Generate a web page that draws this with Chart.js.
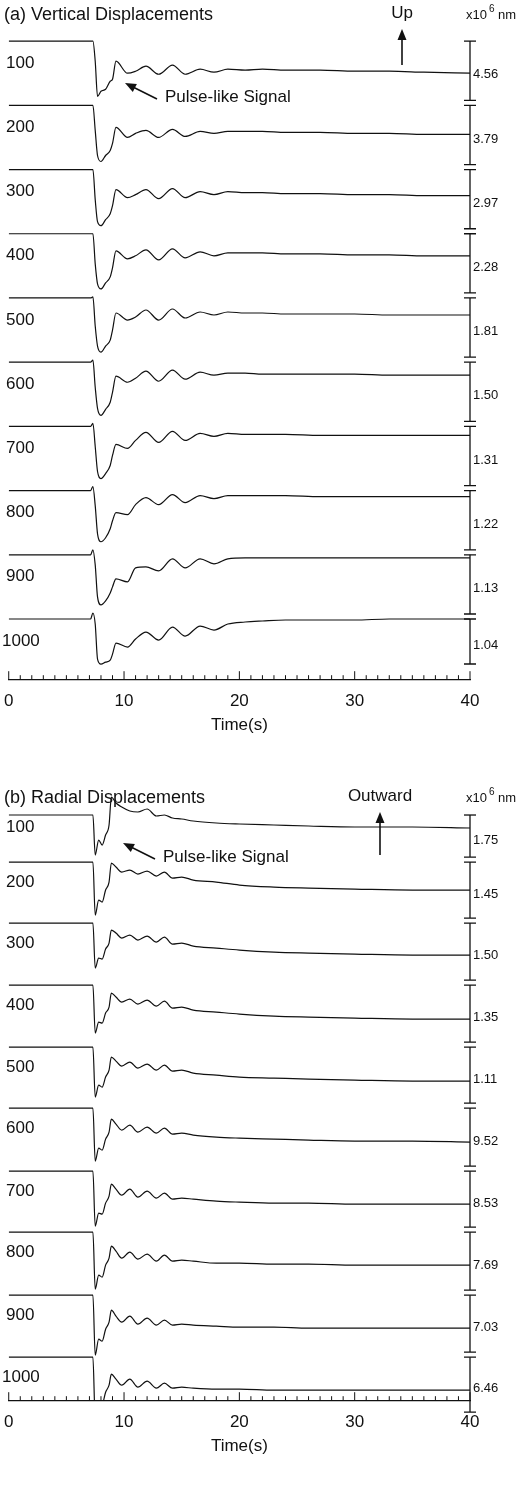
<!DOCTYPE html>
<html>
<head>
<meta charset="utf-8">
<script src="https://cdn.jsdelivr.net/npm/chart.js@4"></script>
<style>
  body { margin: 0; background: #fff; }
  canvas { display: block; }
</style>
</head>
<body>
<canvas id="vert" width="520" height="750"></canvas>
<canvas id="rad" width="520" height="738"></canvas>
<script>
// distances (km) for each trace
const distances = ['100', '200', '300', '400', '500', '600', '700', '800', '900', '1000'];

// trace amplitudes (x10^6 nm)
const vertAmps = ['4.56', '3.79', '2.97', '2.28', '1.81', '1.50', '1.31', '1.22', '1.13', '1.04'];
const radAmps = ['1.75', '1.45', '1.50', '1.35', '1.11', '9.52', '8.53', '7.69', '7.03', '6.46'];

// sample times (s)
const vertTime = [0, 7.1, 7.3, 7.5, 7.7, 8.0, 8.4, 8.8, 9.0, 9.3, 10.3, 11.0, 11.9, 13.0, 14.2, 15.3, 16.6, 17.8, 19, 20.5, 22, 24, 27, 30, 33, 36, 40];
const radTime = [0, 7.1, 7.3, 7.5, 7.8, 8.1, 8.4, 8.7, 8.9, 9.3, 9.8, 10.5, 11.2, 12.0, 12.8, 13.5, 14.2, 15.0, 16, 18, 20, 23, 26, 30, 35, 40];

// normalised vertical traces (up positive)
const vert100 = [0, 0, 0, -20, -55, -50, -48, -40, -38, -20, -32, -30, -25, -33, -24, -33, -28, -31, -28, -29, -28, -29, -29, -30, -30, -31, -32];
const vert200 = [0, 0, 0, -25, -50, -56, -50, -45, -38, -22, -32, -28, -25, -32, -24, -31, -26, -28, -26, -26, -26, -27, -27, -28, -28, -29, -29];
const vert300 = [0, 0, 0, -30, -52, -56, -50, -44, -36, -20, -28, -25, -20, -29, -19, -28, -22, -25, -22, -23, -23, -24, -24, -25, -25, -26, -26];
const vert400 = [0, 0, 0, -30, -50, -55, -49, -43, -34, -17, -25, -22, -16, -26, -15, -24, -18, -22, -19, -19, -19, -20, -20, -21, -21, -22, -22];
const vert500 = [0, 0, 1, -28, -48, -54, -48, -42, -32, -15, -22, -19, -12, -22, -11, -20, -14, -17, -14, -15, -15, -16, -16, -16, -17, -17, -17];
const vert600 = [0, 0, 2, -25, -46, -53, -47, -40, -30, -14, -20, -16, -9, -19, -8, -17, -10, -13, -11, -11, -12, -12, -12, -12, -13, -13, -13];
const vert700 = [0, 0, 3, -20, -45, -52, -47, -39, -29, -18, -22, -14, -6, -16, -5, -14, -7, -10, -7, -8, -8, -8, -9, -9, -9, -9, -9];
const vert800 = [0, 0, 4, -15, -43, -51, -47, -38, -30, -22, -24, -14, -7, -14, -4, -12, -5, -8, -5, -5, -5, -5, -6, -6, -6, -6, -6];
const vert900 = [0, 0, 5, -10, -42, -50, -46, -38, -32, -24, -27, -13, -12, -16, -4, -13, -4, -9, -4, -3, -3, -3, -3, -3, -3, -3, -3];
const vert1000 = [0, 0, 6, -5, -40, -45, -43, -41, -35, -24, -28, -20, -13, -21, -8, -17, -7, -11, -5, -3, -2, -1, -1, -1, 0, 0, 0];

// normalised radial traces (outward positive)
const rad100 = [0, 0, 0, -40, -25, -30, -20, -10, 18, 12, 8, 4, 3, 6, -1, 0, -3, -4, -6, -8, -9, -10, -11, -12, -12, -13];
const rad200 = [0, 0, 0, -53, -38, -40, -28, -20, -1, -5, -10, -8, -12, -9, -14, -10, -16, -15, -18, -20, -23, -25, -26, -27, -28, -28];
const rad300 = [0, 0, 0, -45, -35, -36, -26, -20, -7, -10, -15, -12, -17, -13, -19, -14, -21, -20, -23, -25, -27, -29, -30, -31, -32, -32];
const rad400 = [0, 0, 0, -48, -37, -38, -28, -22, -8, -12, -17, -14, -19, -15, -21, -16, -23, -22, -25, -27, -29, -31, -32, -33, -34, -34];
const rad500 = [0, 0, 0, -50, -38, -40, -30, -23, -10, -14, -19, -15, -21, -17, -23, -18, -24, -23, -26, -28, -30, -31, -32, -33, -34, -34];
const rad600 = [0, 0, 0, -53, -40, -42, -31, -24, -11, -16, -22, -17, -24, -19, -25, -20, -26, -25, -27, -29, -30, -31, -32, -33, -33, -34];
const rad700 = [0, 0, 0, -55, -42, -43, -32, -25, -13, -18, -24, -18, -26, -20, -27, -22, -28, -27, -28, -30, -31, -32, -32, -33, -33, -33];
const rad800 = [0, 0, 0, -57, -43, -45, -33, -26, -14, -19, -26, -20, -27, -22, -29, -23, -29, -28, -29, -31, -31, -32, -32, -33, -33, -33];
const rad900 = [0, 0, 0, -60, -44, -46, -34, -27, -15, -21, -27, -21, -29, -23, -30, -25, -30, -29, -30, -31, -32, -32, -33, -33, -33, -33];
const rad1000 = [0, 0, 0, -62, -45, -47, -35, -28, -17, -22, -28, -22, -30, -24, -31, -26, -31, -30, -31, -32, -32, -33, -33, -33, -33, -33];

const vertTraces = [vert100, vert200, vert300, vert400, vert500, vert600, vert700, vert800, vert900, vert1000];
const radTraces = [rad100, rad200, rad300, rad400, rad500, rad600, rad700, rad800, rad900, rad1000];

const FONT = '"Liberation Sans", Arial, sans-serif';

// draws the panel texts, scale bars, arrows and axis ticks
const decorPlugin = {
  id: 'decor',
  afterDraw(chart) {
    const o = chart.options.plugins.decor;
    const ctx = chart.ctx;
    const xs = chart.scales.x, ys = chart.scales.y;
    const px = t => xs.getPixelForValue(t);
    const py = v => ys.getPixelForValue(v);
    ctx.save();
    ctx.fillStyle = '#111';
    ctx.strokeStyle = '#111';
    ctx.textBaseline = 'middle';

    ctx.font = '18px ' + FONT;
    ctx.textAlign = 'left';
    ctx.fillText(o.title, 4, o.titleY);

    // distance labels
    ctx.font = '17px ' + FONT;
    o.offsets.forEach((off, i) => {
      ctx.fillText(distances[i], i === 9 ? 2 : 6, py(off) + (i === 0 ? o.firstDy : o.labelDy));
    });

    // scale bar
    const xb = px(40);
    ctx.lineWidth = 1.3;
    const top = py(o.offsets[0]);
    ctx.beginPath();
    ctx.moveTo(xb - 6, top); ctx.lineTo(xb + 6, top);
    ctx.stroke();
    ctx.font = '13px ' + FONT;
    o.offsets.forEach((off, i) => {
      const y0 = py(off);
      const y1 = i < 9 ? py(o.offsets[i + 1]) - 5 : py(off) + o.lastLen;
      ctx.beginPath();
      ctx.moveTo(xb, y0); ctx.lineTo(xb, y1);
      ctx.moveTo(xb - 6, y1); ctx.lineTo(xb + 6, y1);
      if (i < 9) { ctx.moveTo(xb - 6, y1 + 5); ctx.lineTo(xb + 6, y1 + 5); }
      ctx.stroke();
      ctx.fillText(o.amps[i], xb + 3, (y0 + y1) / 2 + 4);
    });
    ctx.fillText('x10', xb - 4, o.titleY);
    ctx.font = '10px ' + FONT;
    ctx.fillText('6', xb + 19, o.titleY - 6);
    ctx.font = '13px ' + FONT;
    ctx.fillText('nm', xb + 28, o.titleY);

    // direction arrow
    ctx.font = '17px ' + FONT;
    ctx.textAlign = 'center';
    ctx.fillText(o.dirText, o.dirX, o.titleY - 2);
    arrow(ctx, o.dirX, o.dirY1, o.dirX, o.titleY + 14);

    // pulse-like signal label
    ctx.textAlign = 'left';
    ctx.fillText('Pulse-like Signal', o.pulseX, o.pulseY);
    arrow(ctx, o.pulseX - 8, o.pulseY + 2, o.pulseX - 40, o.pulseY - 14);

    // x axis ticks pointing up
    ctx.lineWidth = 1;
    const yb = chart.chartArea.bottom;
    for (let t = 0; t <= 40; t++) {
      const len = t % 10 === 0 ? 8 : 4;
      ctx.beginPath();
      ctx.moveTo(px(t), yb); ctx.lineTo(px(t), yb - len);
      ctx.stroke();
    }
    ctx.restore();
  }
};

function arrow(ctx, x0, y0, x1, y1) {
  const a = Math.atan2(y1 - y0, x1 - x0);
  ctx.lineWidth = 1.6;
  ctx.beginPath();
  ctx.moveTo(x0, y0); ctx.lineTo(x1 - 5 * Math.cos(a), y1 - 5 * Math.sin(a));
  ctx.stroke();
  ctx.beginPath();
  ctx.moveTo(x1, y1);
  ctx.lineTo(x1 - 11 * Math.cos(a) + 4.5 * Math.sin(a), y1 - 11 * Math.sin(a) - 4.5 * Math.cos(a));
  ctx.lineTo(x1 - 11 * Math.cos(a) - 4.5 * Math.sin(a), y1 - 11 * Math.sin(a) + 4.5 * Math.cos(a));
  ctx.closePath();
  ctx.fill();
}

const makePanel = (id, times, traces, offsets, yTop, yBottom, padBottom, decor) => {
  return new Chart(document.getElementById(id), {
    type: 'line',
    data: {
      datasets: traces.map((vals, i) => ({
        data: vals.map((v, k) => ({ x: times[k], y: offsets[i] - v })),
        borderColor: '#111',
        borderWidth: 1.2,
        pointRadius: 0,
        cubicInterpolationMode: 'monotone',
        fill: false
      }))
    },
    options: {
      responsive: false,
      animation: false,
      events: [],
      layout: { padding: { left: 8, right: 50, top: yTop, bottom: padBottom } },
      plugins: { legend: { display: false }, tooltip: { enabled: false }, decor: decor },
      scales: {
        x: {
          type: 'linear', min: 0, max: 40,
          ticks: { stepSize: 1, autoSkip: false, maxRotation: 0, color: '#111', padding: 4,
            font: { size: 17, family: FONT },
            callback: v => (v % 10 === 0 ? v : '') },
          grid: { display: false },
          border: { display: true, color: '#111', width: 1.3 },
          title: { display: true, text: 'Time(s)', color: '#111', padding: 0, font: { size: 17, family: FONT } }
        },
        y: { display: false, reverse: true, min: yTop, max: yBottom }
      }
    },
    plugins: [decorPlugin]
  });
};

// trace baselines in panel pixels (layout only)
const vertOffsets = distances.map((d, i) => 41 + i * 64);
const radOffsets = [65, 112, 173, 235, 297, 358, 421, 482, 545, 607];

makePanel('vert', vertTime, vertTraces, vertOffsets, 5, 677, 14, {
  title: '(a) Vertical Displacements', titleY: 15, amps: vertAmps, offsets: vertOffsets, lastLen: 45,
  labelDy: 22, firstDy: 22,
  dirText: 'Up', dirX: 402, dirY1: 65, pulseX: 165, pulseY: 97
});
makePanel('rad', radTime, radTraces, radOffsets, 5, 650, 31, {
  title: '(b) Radial Displacements', titleY: 48, amps: radAmps, offsets: radOffsets, lastLen: 55,
  labelDy: 20, firstDy: 12,
  dirText: 'Outward', dirX: 380, dirY1: 105, pulseX: 163, pulseY: 107
});
</script>
</body>
</html>
